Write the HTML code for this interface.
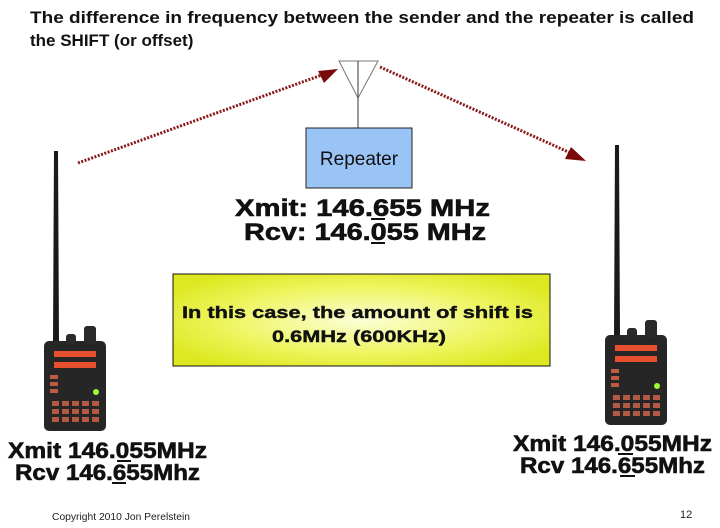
<!DOCTYPE html>
<html><head><meta charset="utf-8"><style>
html,body{margin:0;padding:0;background:#fff;}
svg{display:block;font-family:"Liberation Sans",Arial,sans-serif;}
</style></head><body>
<svg width="720" height="528" viewBox="0 0 720 528" xmlns="http://www.w3.org/2000/svg">
<defs>
<radialGradient id="yg" cx="0.5" cy="0.5" r="0.6">
<stop offset="0" stop-color="#fbffd8"/><stop offset="0.6" stop-color="#eef560"/><stop offset="1" stop-color="#dde820"/>
</radialGradient>
<g id="radio">
<path d="M-2,0 L2,0 L3,190 L-3,190 Z" fill="#1a1a1a"/>
<rect x="-12" y="190" width="62" height="90" rx="5" fill="#262626"/>
<rect x="28" y="175" width="12" height="18" rx="3" fill="#2a2a2a"/>
<rect x="10" y="183" width="10" height="10" rx="3" fill="#2a2a2a"/>
<rect x="-2" y="200" width="42" height="6" fill="#e6502e"/>
<rect x="-2" y="211" width="42" height="6" fill="#e6502e"/>
<rect x="-6" y="224" width="8" height="4" fill="#c05a40"/>
<rect x="-6" y="231" width="8" height="4" fill="#c05a40"/>
<rect x="-6" y="238" width="8" height="4" fill="#c05a40"/>
<circle cx="40" cy="241" r="3" fill="#9f3"/>
<g fill="#b35a45">
<rect x="-4" y="250" width="7" height="5"/><rect x="6" y="250" width="7" height="5"/><rect x="16" y="250" width="7" height="5"/><rect x="26" y="250" width="7" height="5"/><rect x="36" y="250" width="7" height="5"/>
<rect x="-4" y="258" width="7" height="5"/><rect x="6" y="258" width="7" height="5"/><rect x="16" y="258" width="7" height="5"/><rect x="26" y="258" width="7" height="5"/><rect x="36" y="258" width="7" height="5"/>
<rect x="-4" y="266" width="7" height="5"/><rect x="6" y="266" width="7" height="5"/><rect x="16" y="266" width="7" height="5"/><rect x="26" y="266" width="7" height="5"/><rect x="36" y="266" width="7" height="5"/>
</g>
</g>
</defs>

<text x="30" y="23" font-size="17" font-weight="bold" fill="#111" textLength="664" lengthAdjust="spacingAndGlyphs">The difference in frequency between the sender and the repeater is called</text>
<text x="30" y="46" font-size="17" font-weight="bold" fill="#111">the SHIFT (or offset)</text>

<polygon points="339,61 378,61 358,98" fill="none" stroke="#777" stroke-width="1"/>
<line x1="358" y1="61" x2="358" y2="128" stroke="#555" stroke-width="1.2"/>
<rect x="306" y="128" width="106" height="60" fill="#99c4f5" stroke="#222" stroke-width="1"/>
<text x="359" y="165" font-size="19" text-anchor="middle" fill="#111">Repeater</text>

<line x1="78" y1="163" x2="330" y2="72" stroke="#8a1a1a" stroke-width="3" stroke-dasharray="2,1.5"/>
<polygon points="338,69 318,71 324,83" fill="#7a0a0a"/>
<line x1="380" y1="67" x2="575" y2="155" stroke="#8a1a1a" stroke-width="3" stroke-dasharray="2,1.5"/>
<polygon points="586,161 565,159 571,147" fill="#7a0a0a"/>

<g font-weight="bold" fill="#111" stroke="#111" stroke-width="0.6">
<text x="235" y="216" font-size="24" textLength="255" lengthAdjust="spacingAndGlyphs">Xmit: 146.655 MHz</text>
<text x="244" y="240" font-size="24" textLength="242" lengthAdjust="spacingAndGlyphs">Rcv: 146.055 MHz</text>
<text x="8" y="458" font-size="22" textLength="199" lengthAdjust="spacingAndGlyphs">Xmit 146.055MHz</text>
<text x="15" y="480" font-size="22" textLength="185" lengthAdjust="spacingAndGlyphs">Rcv 146.655Mhz</text>
<text x="513" y="451" font-size="22" textLength="199" lengthAdjust="spacingAndGlyphs">Xmit 146.055MHz</text>
<text x="520" y="473" font-size="22" textLength="185" lengthAdjust="spacingAndGlyphs">Rcv 146.655Mhz</text>
</g>
<g stroke="#111" stroke-width="2">
<line x1="371" y1="219" x2="385" y2="219"/>
<line x1="371" y1="243" x2="385" y2="243"/>
<line x1="117" y1="461" x2="131" y2="461"/>
<line x1="112" y1="483" x2="126" y2="483"/>
<line x1="618" y1="454" x2="633" y2="454"/>
<line x1="620" y1="476" x2="635" y2="476"/>
</g>

<rect x="173" y="274" width="377" height="92" fill="url(#yg)" stroke="#111" stroke-width="1"/>
<g font-weight="bold" fill="#111" stroke="#111" stroke-width="0.4">
<text x="182" y="318" font-size="17" textLength="351" lengthAdjust="spacingAndGlyphs">In this case, the amount of shift is</text>
<text x="272" y="342" font-size="17" textLength="174" lengthAdjust="spacingAndGlyphs">0.6MHz (600KHz)</text>
</g>

<use href="#radio" x="56" y="151"/>
<use href="#radio" x="617" y="145"/>

<text x="52" y="520" font-size="10" fill="#222" textLength="138" lengthAdjust="spacingAndGlyphs">Copyright 2010 Jon Perelstein</text>
<text x="680" y="518" font-size="11" fill="#222">12</text>
</svg>
</body></html>
